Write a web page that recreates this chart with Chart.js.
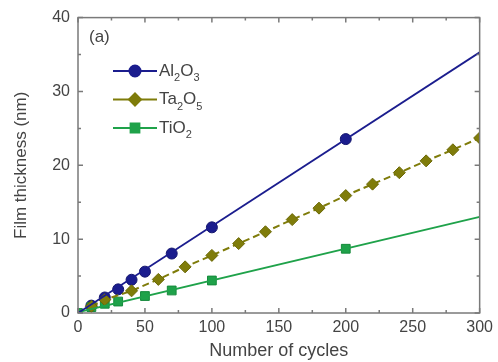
<!DOCTYPE html>
<html>
<head>
<meta charset="utf-8">
<script src="https://cdn.jsdelivr.net/npm/chart.js@4"></script>
<style>
	html, body { margin: 0; padding: 0; background: #fff; }
	#wrap { width: 498px; height: 362px; }
</style>
</head>
<body>
<div id="wrap"><canvas id="chart" width="498" height="362"></canvas></div>
<script>
// values (nm vs ALD cycles)
const alCycles = [10, 20, 30, 40, 50, 70, 100, 200];
const alThick = [1.0, 2.1, 3.2, 4.5, 5.6, 8.05, 11.6, 23.55];
const alFitCycles = [0, 300];
const alFitThick = [0.0, 35.3];

const taCycles = [10, 20, 40, 60, 80, 100, 120, 140, 160, 180, 200, 220, 240, 260, 280, 300];
const taThick = [0.9, 1.8, 3.0, 4.55, 6.25, 7.8, 9.4, 11.0, 12.65, 14.2, 15.9, 17.45, 19.0, 20.6, 22.1, 23.7];

const tiCycles = [0, 10, 20, 30, 50, 70, 100, 200];
const tiThick = [0.0, 0.8, 1.25, 1.55, 2.3, 3.05, 4.4, 8.7];
const tiFitCycles = [0, 300];
const tiFitThick = [0.1, 13.0];

const xTicks = [0, 50, 100, 150, 200, 250, 300];
const yTicks = [0, 10, 20, 30, 40];

const blue = '#1b1d8e';
const olive = '#7f7c0a';
const green = '#1fa24a';
const axisGray = '#7a7a7a';
const textGray = '#444';
const font = "'Liberation Sans', Arial, sans-serif";

const pts = (xs, ys) => xs.map((x, i) => ({ x: x, y: ys[i] }));

// legend entries, name split into [text, subscript] pieces
const legendItems = [
	{ parts: [['Al', false], ['2', true], ['O', false], ['3', true]], color: blue, style: 'circle', r: 5.5 },
	{ parts: [['Ta', false], ['2', true], ['O', false], ['5', true]], color: olive, style: 'rectRot', r: 6 },
	{ parts: [['TiO', false], ['2', true]], color: green, style: 'rect', r: 6.2 }
];

// inward ticks on all four sides + closed frame + legend
const framePlugin = {
	id: 'frame',
	afterDatasetsDraw(chart) {
		const ctx = chart.ctx;
		const a = chart.chartArea;
		const xs = chart.scales.x;
		const ys = chart.scales.y;
		ctx.save();
		ctx.strokeStyle = axisGray;
		ctx.lineWidth = 1.5;
		ctx.strokeRect(a.left, a.top, a.right - a.left, a.bottom - a.top);
		for (let v = 0; v <= 300; v += 25) {
			const px = xs.getPixelForValue(v);
			const len = v % 50 === 0 ? 5 : 3;
			ctx.beginPath();
			ctx.moveTo(px, a.bottom); ctx.lineTo(px, a.bottom - len);
			ctx.moveTo(px, a.top); ctx.lineTo(px, a.top + len);
			ctx.stroke();
		}
		for (let v = 0; v <= 40; v += 5) {
			const py = ys.getPixelForValue(v);
			const len = v % 10 === 0 ? 5 : 3;
			ctx.beginPath();
			ctx.moveTo(a.left, py); ctx.lineTo(a.left + len, py);
			ctx.moveTo(a.right, py); ctx.lineTo(a.right - len, py);
			ctx.stroke();
		}

		// panel label
		ctx.fillStyle = textGray;
		ctx.font = '17px ' + font;
		ctx.textBaseline = 'middle';
		ctx.fillText('(a)', 89, 37);

		// legend
		legendItems.forEach((item, i) => {
			const y = 71 + i * 28.5;
			ctx.strokeStyle = item.color;
			ctx.lineWidth = 2;
			ctx.beginPath();
			ctx.moveTo(113, y); ctx.lineTo(157, y);
			ctx.stroke();
			ctx.fillStyle = item.color;
			Chart.helpers.drawPoint(ctx, { pointStyle: item.style, radius: item.r, borderWidth: 1 }, 135, y);
			ctx.fill();
			let tx = 159;
			item.parts.forEach(([txt, sub]) => {
				ctx.fillStyle = textGray;
				ctx.font = (sub ? '11px ' : '17px ') + font;
				ctx.fillText(txt, tx, sub ? y + 7 : y);
				tx += ctx.measureText(txt).width;
			});
		});
		ctx.restore();
	}
};

new Chart(document.getElementById('chart'), {
	type: 'scatter',
	data: {
		datasets: [
			{
				label: 'Al2O3 fit',
				data: pts(alFitCycles, alFitThick),
				showLine: true,
				borderColor: blue,
				borderWidth: 1.8,
				pointRadius: 0
			},
			{
				label: 'TiO2 fit',
				data: pts(tiFitCycles, tiFitThick),
				showLine: true,
				borderColor: green,
				borderWidth: 1.8,
				pointRadius: 0
			},
			{
				label: 'Ta2O5',
				data: pts(taCycles, taThick),
				showLine: true,
				borderColor: olive,
				borderWidth: 2,
				borderDash: [7, 4],
				pointStyle: 'rectRot',
				pointRadius: 6,
				pointBackgroundColor: olive,
				pointBorderColor: '#6b6805',
				pointBorderWidth: 1
			},
			{
				label: 'TiO2',
				data: pts(tiCycles, tiThick),
				showLine: false,
				pointStyle: 'rect',
				pointRadius: 6.2,
				pointBackgroundColor: green,
				pointBorderColor: '#168a3c',
				pointBorderWidth: 1
			},
			{
				label: 'Al2O3',
				data: pts(alCycles, alThick),
				showLine: false,
				pointStyle: 'circle',
				pointRadius: 5.5,
				pointBackgroundColor: blue,
				pointBorderColor: '#14166e',
				pointBorderWidth: 1
			}
		]
	},
	options: {
		responsive: false,
		animation: false,
		layout: { padding: { top: 15, right: 18, left: 0, bottom: 0 } },
		plugins: {
			legend: { display: false },
			tooltip: { enabled: false }
		},
		scales: {
			x: {
				type: 'linear',
				min: 0,
				max: 300,
				afterBuildTicks: s => { s.ticks = xTicks.map(v => ({ value: v })); },
				afterFit: s => { s.height = 49; },
				grid: { display: false, drawTicks: false },
				border: { display: false },
				ticks: { color: textGray, font: { family: font, size: 16 }, padding: 5, maxRotation: 0 },
				title: { display: true, text: 'Number of cycles', color: textGray, font: { family: font, size: 18 }, padding: { top: 0, bottom: 0 } }
			},
			y: {
				min: 0,
				max: 40,
				afterBuildTicks: s => { s.ticks = yTicks.map(v => ({ value: v })); },
				afterFit: s => { s.width = 78; },
				grid: { display: false, drawTicks: false },
				border: { display: false },
				ticks: { color: textGray, font: { family: font, size: 16 }, padding: 8 },
				title: { display: true, text: 'Film thickness (nm)', color: textGray, font: { family: font, size: 17 }, padding: { top: 11, bottom: 0 } }
			}
		}
	},
	plugins: [framePlugin]
});
</script>
</body>
</html>
